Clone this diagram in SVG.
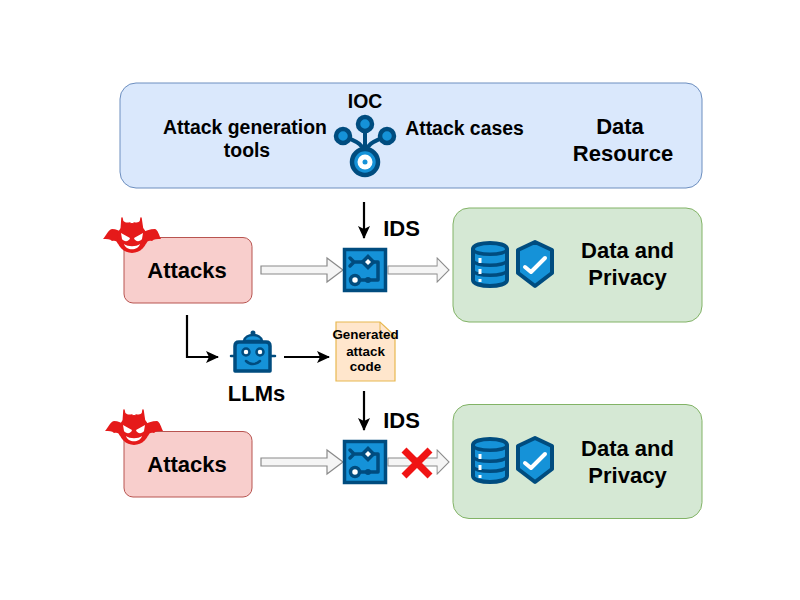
<svg xmlns="http://www.w3.org/2000/svg" width="800" height="600" viewBox="0 0 800 600">
<style>
text{font-family:"Liberation Sans",Arial,sans-serif;font-weight:700;fill:#000;text-anchor:middle}
.t19{font-size:19.4px}.t22{font-size:22px}.t13{font-size:13.4px}
.atk{fill:#f8cecc;stroke:#b85450;stroke-width:1}
.grn{fill:#d5e8d4;stroke:#82b366;stroke-width:1}
.blu{fill:#dae8fc;stroke:#6c8ebf;stroke-width:1}
.hollow{fill:#f5f5f5;stroke:#8a8a8a;stroke-width:1.200}
.line{fill:none;stroke:#000;stroke-width:2.200}
.ic{stroke:#004c7f;stroke-width:4;stroke-linejoin:round;stroke-linecap:round}
.fillb{fill:#1592d8}
.wire{fill:none;stroke:#004c7f;stroke-width:3.500;stroke-linecap:round;stroke-linejoin:round}
</style>
<defs>
<marker id="ah" markerWidth="13" markerHeight="12" refX="12" refY="6" orient="auto" markerUnits="userSpaceOnUse"><path d="M0 0L13 6L0 12L3 6Z" fill="#000"/></marker>
<path id="hollowArrow" class="hollow" d="M0 -4H66V-12L82 0L66 12V4H0Z"/>
<g id="devil">
<path d="M-29 1C-26 -2 -24 -8 -20 -9C-16 -9 -12 -7 -9 -5L-6 10C-9 6 -12 5 -14 6C-15 3 -17 2 -20 3C-22 1 -25 1 -29 1Z" fill="#e51a1a"/>
<path d="M29 1C27 -3 26 -8 23 -9C18 -9 13 -7 9 -5L6 10C9 6 12 5 14 6C15 3 17 2 20 3C22 1 25 1 29 1Z" fill="#e51a1a"/>
<path d="M-10 -20C-10 -15 -6 -14 -2 -15L-11 -6ZM9 -20C9 -15 6 -14 2 -15L11 -6Z" fill="#e51a1a" stroke="#e51a1a" stroke-width="1.500" stroke-linejoin="round"/>
<circle cx="0" cy="0" r="15" fill="#e51a1a"/>
<path d="M-11 -5L-2 0C-3 4 -8 4 -10 1ZM11 -5L2 0C3 4 8 4 10 1Z" fill="#fff"/>
<path d="M-8 6C-4 9 4 9 8 6C6 13 -6 13 -8 6Z" fill="#fff"/>
</g>
<g id="ids">
<rect x="1.500" y="1.500" width="41" height="41" class="fillb" stroke="#004c7f" stroke-width="3.500"/>
<path class="wire" d="M7 10L11 14L7 18M11 14H20M30 14H35V32H14"/>
<path d="M25 6L33 14L25 22L17 14Z" fill="#004c7f"/>
<path d="M25 11L28 14L25 17L22 14Z" fill="#fff"/>
<circle cx="12" cy="32" r="4.500" fill="#fff" stroke="#004c7f" stroke-width="3.500"/>
<circle cx="25" cy="32" r="3" fill="#004c7f"/>
</g>
<g id="dbshield">
<path class="ic fillb" d="M2 6C2 -2 36 -2 36 6V37C36 45 2 45 2 37Z"/>
<path class="wire" d="M2 6C2 13 36 13 36 6M2 17C2 24 36 24 36 17M2 27C2 34 36 34 36 27"/>
<path d="M9 15V20M9 26V31M9 36V39" stroke="#fff" stroke-width="3" fill="none"/>
<path class="ic fillb" d="M64 -1L81 7V30L64 43L47 30V7Z"/>
<path d="M54 24L60 29L74 15" fill="none" stroke="#fff" stroke-width="4" stroke-linecap="round" stroke-linejoin="round"/>
</g>
</defs>

<g id="connectors">
<path class="line" marker-end="url(#ah)" d="M364 202V238"/>
<path class="line" marker-end="url(#ah)" d="M187 315V357H218"/>
<path class="line" marker-end="url(#ah)" d="M284 357H329"/>
<path class="line" marker-end="url(#ah)" d="M364 391V430"/>
<use href="#hollowArrow" x="261" y="270"/>
<use href="#hollowArrow" transform="translate(388 270) scale(0.744 1)"/>
<use href="#hollowArrow" x="261" y="462"/>
<use href="#hollowArrow" transform="translate(388 462) scale(0.744 1)"/>
</g>

<g id="data-resource">
<rect class="blu" x="120" y="83" width="582" height="105" rx="16"/>
<text class="t19" x="245" y="134">Attack generation</text>
<text class="t19" x="247" y="157">tools</text>
<text class="t19" x="365" y="108">IOC</text>
<text class="t19" x="464.500" y="135">Attack cases</text>
<text class="t22" x="620" y="134">Data</text>
<text class="t22" x="623" y="161">Resource</text>
</g>

<g id="ioc-icon">
<path fill="none" stroke="#004c7f" stroke-width="4" stroke-linecap="round" d="M343 135C352 141 361 141 365 152M365 125V150M387 135C378 141 369 141 365 152"/>
<circle cx="343" cy="136" r="7" class="fillb" stroke="#004c7f" stroke-width="4.500"/>
<circle cx="365" cy="124" r="7" class="fillb" stroke="#004c7f" stroke-width="4.500"/>
<circle cx="387" cy="136" r="7" class="fillb" stroke="#004c7f" stroke-width="4.500"/>
<circle cx="365" cy="162" r="13" class="fillb" stroke="#004c7f" stroke-width="4.500"/>
<circle cx="365" cy="162" r="7.500" fill="#fff"/>
<circle cx="365" cy="162" r="2.500" fill="#1592d8"/>
</g>

<g id="attacks-1">
<rect class="atk" x="124" y="237.500" width="128" height="65.500" rx="9"/>
<text class="t22" x="187" y="278">Attacks</text>
<use href="#devil" x="132" y="238"/>
</g>
<g id="ids-1"><use href="#ids" x="343" y="248"/><text class="t22" x="401.500" y="236">IDS</text></g>
<g id="privacy-1">
<rect class="grn" x="453" y="208" width="249" height="114" rx="16"/>
<use href="#dbshield" x="471" y="243"/>
<text class="t22" x="627.500" y="258">Data and</text>
<text class="t22" x="627.500" y="285">Privacy</text>
</g>

<g id="llms">
<path d="M235 346Q235 342 239 342H266Q270 342 270 346V371H235Z" class="fillb" stroke="#004c7f" stroke-width="3.500" stroke-linejoin="round"/>
<path d="M244 341C245 333 261 333 262 341Z" fill="#1592d8" stroke="#004c7f" stroke-width="2.500"/>
<circle cx="253" cy="333" r="2.500" fill="#004c7f"/>
<path d="M231 356H234M271 356H275" stroke="#004c7f" stroke-width="2.500" stroke-linecap="round"/>
<circle cx="246" cy="352" r="3.500" fill="#fff" stroke="#004c7f" stroke-width="2.500"/>
<circle cx="260" cy="352" r="3.500" fill="#fff" stroke="#004c7f" stroke-width="2.500"/>
<path d="M246 361C250 365 256 365 260 361" fill="none" stroke="#004c7f" stroke-width="2.500" stroke-linecap="round"/>
<text class="t22" x="256.500" y="401">LLMs</text>
</g>

<g id="generated-code">
<path d="M336 322H380L395 336V381H336Z" fill="#ffe6cc" stroke="#e8b850" stroke-width="1.200"/>
<path d="M380 322V336H395" fill="none" stroke="#e8b850" stroke-width="1"/>
<text class="t13" x="365.500" y="339">Generated</text>
<text class="t13" x="365.500" y="356">attack</text>
<text class="t13" x="365.500" y="371">code</text>
</g>

<g id="attacks-2">
<rect class="atk" x="124" y="431.500" width="128" height="65.500" rx="9"/>
<text class="t22" x="187" y="472">Attacks</text>
<use href="#devil" x="134" y="430"/>
</g>
<g id="ids-2"><use href="#ids" x="343" y="440"/><text class="t22" x="401.500" y="428">IDS</text></g>
<g id="block"><path d="M404 450L430 476M430 450L404 476" stroke="#f01414" stroke-width="7"/></g>
<g id="privacy-2">
<rect class="grn" x="453" y="404.500" width="249" height="114" rx="16"/>
<use href="#dbshield" x="471" y="439"/>
<text class="t22" x="627.500" y="456">Data and</text>
<text class="t22" x="627.500" y="483">Privacy</text>
</g>
</svg>
